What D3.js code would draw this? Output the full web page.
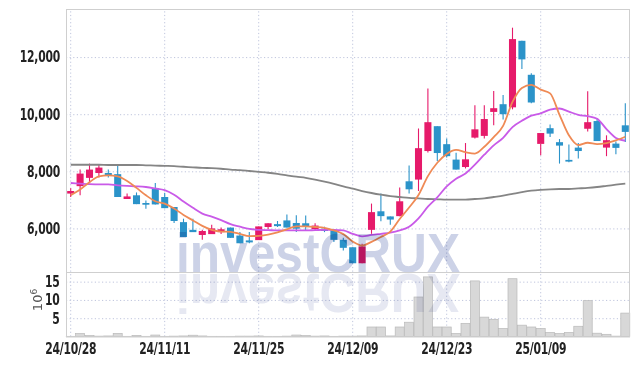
<!DOCTYPE html>
<html>
<head>
<meta charset="utf-8">
<script src="https://cdn.jsdelivr.net/npm/d3@7"></script>
<style>
body{margin:0;background:#fff}
svg{display:block}
.lbl text{font-family:'DejaVu Sans Condensed','DejaVu Sans',sans-serif;font-weight:bold;font-size:15px;fill:#222;letter-spacing:-0.3px}
.grid line{stroke:#bfc5dd;stroke-dasharray:1.2,2.4}
.wm{mix-blend-mode:multiply}
</style>
</head>
<body>
<div id="chart"></div>
<script>
// trading days, 2024-10-28 .. 2025-01-22
const dates=['24/10/28','24/10/29','24/10/30','24/10/31','24/11/01','24/11/04','24/11/05','24/11/06','24/11/07','24/11/08',
'24/11/11','24/11/12','24/11/13','24/11/14','24/11/15','24/11/18','24/11/19','24/11/20','24/11/21','24/11/22',
'24/11/25','24/11/26','24/11/27','24/11/28','24/11/29','24/12/02','24/12/03','24/12/04','24/12/05','24/12/06',
'24/12/09','24/12/10','24/12/11','24/12/12','24/12/13','24/12/16','24/12/17','24/12/18','24/12/19','24/12/20',
'24/12/23','24/12/24','24/12/26','24/12/27','24/12/30','25/01/02','25/01/03','25/01/06','25/01/07','25/01/08',
'25/01/09','25/01/10','25/01/13','25/01/14','25/01/15','25/01/16','25/01/17','25/01/20','25/01/21','25/01/22']

const opens=[7220,7480,7770,7940,7940,7900,7030,7160,6890,7410,7100,6750,6220,5950,5770,5800,5870,6030,5750,5580,
5590,6050,6150,6280,6190,6180,5980,5990,5930,5600,5340,4780,5950,6600,6420,6430,7650,7710,8710,9580,
8950,8410,8150,9180,9240,10080,10350,10240,12570,11380,8960,9510,9020,8400,8830,9490,9760,8830,8970,9610]
const highs=[7410,8060,8270,8250,8060,8200,7220,7260,6980,7590,7240,6750,6340,6340,5950,6130,6030,6030,5870,5870,
6070,6180,6260,6490,6460,6450,6180,6060,5930,5670,5340,5460,6870,7220,6420,7430,8200,9500,10900,9580,
9150,8650,8990,10310,10310,10810,10670,13030,12570,11430,8960,9640,9130,8940,8990,10800,9850,9260,9040,10380]
const lows=[7100,7160,7600,7780,7780,7100,7030,6850,6690,6840,6710,6190,5700,5870,5600,5800,5800,5670,5480,5480,
5590,5970,6050,6030,5870,5930,5930,5870,5520,5230,4780,4780,5810,6250,6130,6430,7220,7310,8660,8360,
8480,8060,8100,9150,9150,9610,9810,10170,11580,10380,8560,9200,8270,8320,8450,9390,9060,8530,8600,9030]
const closes=[7310,7920,8060,8130,7870,7100,7120,6850,6830,6840,6710,6260,5700,5870,5910,6000,5970,5670,5480,5510,
6070,6180,6080,6030,5990,6070,6100,5910,5600,5320,4780,5370,6570,6430,6310,6950,7370,8810,9720,8640,
8530,8060,8420,9470,9830,10210,10000,12630,11920,10410,9340,9320,8900,8340,8710,9720,9060,9090,8820,9380]

// volume, millions of shares
const volumes=[0.05,0.8,0.25,0.1,0.15,0.85,0.05,0.3,0.05,0.4,0.05,0.1,0.15,0.35,0.15,0.05,0.05,0.05,0.1,0.1,
0.15,0.05,0.05,0.1,0.4,0.25,0.1,0.15,0.05,0.1,0.1,0.15,2.6,2.6,0.15,2.6,3.9,10.8,16.3,2.6,
2.6,0.8,3.6,15.2,5.3,4.7,2.2,15.8,3.1,2.6,2.2,1.1,0.8,1.1,2.8,9.8,0.9,0.6,0.1,6.4]

const ma5=[7160,7360,7620,7820,7860,7820,7660,7420,7160,6950,6870,6700,6470,6280,6090,5950,5890,5880,5810,5730,
5740,5780,5860,5970,6070,6070,6050,6020,5930,5800,5540,5400,5530,5700,5890,6330,6730,7170,7830,8300,
8610,8750,8670,8620,8860,9200,9590,10430,10920,11030,10860,10730,9980,9260,8920,9000,8950,8990,9080,9210]
const ma10=[7590,7570,7550,7540,7540,7510,7490,7475,7450,7400,7340,7180,6940,6720,6520,6410,6290,6150,6060,5980,
5950,5940,5930,5930,5930,5930,5940,5950,5950,5930,5810,5720,5770,5810,5850,5930,6060,6350,6760,7090,
7470,7740,7920,8230,8580,8910,9170,9550,9770,9950,10030,10160,10200,10090,9980,9930,9840,9480,9170,9070]
const ma60=[8230,8230,8230,8230,8220,8220,8220,8220,8210,8200,8190,8180,8160,8140,8120,8110,8090,8060,8040,8010,
7980,7950,7910,7860,7810,7770,7710,7640,7560,7470,7390,7310,7240,7180,7130,7100,7070,7050,7030,7020,
7010,7010,7010,7030,7050,7100,7150,7210,7270,7320,7350,7370,7380,7380,7400,7420,7450,7490,7530,7570]

const priceTicks=[6000,8000,10000,12000]
const volTicks=[5,10,15]
const dateTicks=[0,10,20,30,40,50]

const W=639,H=366
const pLeft=66,pRight=630,pTop=9,pSplit=272.5,pBottom=336.5
const upColor='#e61a6a',downColor='#2b93c9'

const svg=d3.select('#chart').append('svg').attr('width',W).attr('height',H)

const x=d3.scaleBand().domain(d3.range(dates.length)).range([pLeft,pRight]).paddingInner(0.25).paddingOuter(0.125)
const cx=i=>x(i)+x.bandwidth()/2
const y=d3.scaleLinear().domain([4456,13684]).range([pSplit,pTop])
const yv=d3.scaleLinear().domain([0,17.5]).range([pBottom,pSplit])

// grid
svg.append('g').attr('class','grid').attr('transform','translate('+pLeft+',0)')
	.call(d3.axisLeft(y).tickValues(priceTicks).tickSize(-(pRight-pLeft)).tickFormat(''))
	.call(g=>g.select('.domain').remove())
svg.append('g').attr('class','grid').attr('transform','translate('+pLeft+',0)')
	.call(d3.axisLeft(yv).tickValues(volTicks).tickSize(-(pRight-pLeft)).tickFormat(''))
	.call(g=>g.select('.domain').remove())
svg.append('g').attr('class','grid').attr('transform','translate(0,'+pBottom+')')
	.call(d3.axisBottom(x).tickValues(dateTicks).tickSize(-(pBottom-pTop)).tickFormat(''))
	.call(g=>g.select('.domain').remove())

// volume bars
svg.append('g').selectAll('rect').data(volumes).join('rect')
	.attr('x',(d,i)=>cx(i)-4.5)
	.attr('width',9)
	.attr('y',d=>yv(d))
	.attr('height',d=>pBottom-yv(d))
	.attr('fill','#d8d8d8')
	.attr('stroke','#b9b9b9')
	.attr('stroke-width',0.7)

// candles
let candles=svg.append('g').selectAll('g').data(d3.range(dates.length)).join('g')
candles.append('line')
	.attr('x1',i=>cx(i)).attr('x2',i=>cx(i))
	.attr('y1',i=>y(highs[i])).attr('y2',i=>y(lows[i]))
	.attr('stroke',i=>closes[i]>=opens[i]?upColor:downColor)
	.attr('stroke-width',1.1)
candles.append('rect')
	.attr('x',i=>x(i))
	.attr('width',x.bandwidth())
	.attr('y',i=>y(Math.max(opens[i],closes[i])))
	.attr('height',i=>Math.max(1.5,Math.abs(y(opens[i])-y(closes[i]))))
	.attr('fill',i=>closes[i]>=opens[i]?upColor:downColor)

// moving averages
function maLine(vals,color){
	let line=d3.line().x((d,i)=>cx(i)).y(d=>y(d)).curve(d3.curveMonotoneX)
	svg.append('path').datum(vals)
		.attr('d',line)
		.attr('fill','none')
		.attr('stroke',color)
		.attr('stroke-width',1.8)
}
maLine(ma60,'#858585')
maLine(ma10,'#c95ae8')
maLine(ma5,'#ef8a55')

// watermark + reflection
let wm=svg.append('g').attr('class','wm')
wm.append('text')
	.attr('x',176).attr('y',272)
	.attr('textLength',284).attr('lengthAdjust','spacingAndGlyphs')
	.style('font-family','Liberation Sans, Arial, sans-serif').style('font-weight','bold').style('font-size','56px')
	.attr('fill','#ccd2e7')
	.text('investCRUX')
wm.append('text')
	.attr('x',176).attr('y',272)
	.attr('transform','translate(0,546) scale(1,-1)')
	.attr('textLength',284).attr('lengthAdjust','spacingAndGlyphs')
	.style('font-family','Liberation Sans, Arial, sans-serif').style('font-weight','bold').style('font-size','56px')
	.attr('fill','#e6e8f2')
	.text('investCRUX')

// frame
let frame=svg.append('g').attr('stroke','#cfcfcf').attr('fill','none')
frame.append('rect').attr('x',pLeft+0.5).attr('y',pTop+0.5).attr('width',pRight-pLeft-1).attr('height',pBottom-pTop)
frame.append('line').attr('x1',pLeft).attr('x2',pRight).attr('y1',pSplit).attr('y2',pSplit)

// axes labels, squeezed to the narrow look of the original
const squeeze=g=>g.selectAll('text').attr('transform','scale(0.8,1)')
svg.append('g').attr('class','lbl').attr('transform','translate('+pLeft+',0)')
	.call(d3.axisLeft(y).tickValues(priceTicks).tickSize(0).tickPadding(7.5).tickFormat(d3.format(',')))
	.call(g=>g.select('.domain').remove())
	.call(squeeze)
svg.append('g').attr('class','lbl').attr('transform','translate('+pLeft+',0)')
	.call(d3.axisLeft(yv).tickValues(volTicks).tickSize(0).tickPadding(8))
	.call(g=>g.select('.domain').remove())
	.call(squeeze)
svg.append('g').attr('class','lbl').attr('transform','translate(0,'+pBottom+')')
	.call(d3.axisBottom(x).tickValues(dateTicks).tickSize(0).tickPadding(7).tickFormat(i=>dates[i]))
	.call(g=>g.select('.domain').remove())
	.call(squeeze)

let unit=svg.append('text')
	.attr('transform','translate(42,300) rotate(-90)')
	.attr('text-anchor','middle')
	.style('font-family','DejaVu Sans, sans-serif').style('font-size','13px')
	.attr('fill','#555')
unit.append('tspan').text('10')
unit.append('tspan').attr('baseline-shift','super').style('font-size','9px').text('6')
</script>
</body>
</html>
